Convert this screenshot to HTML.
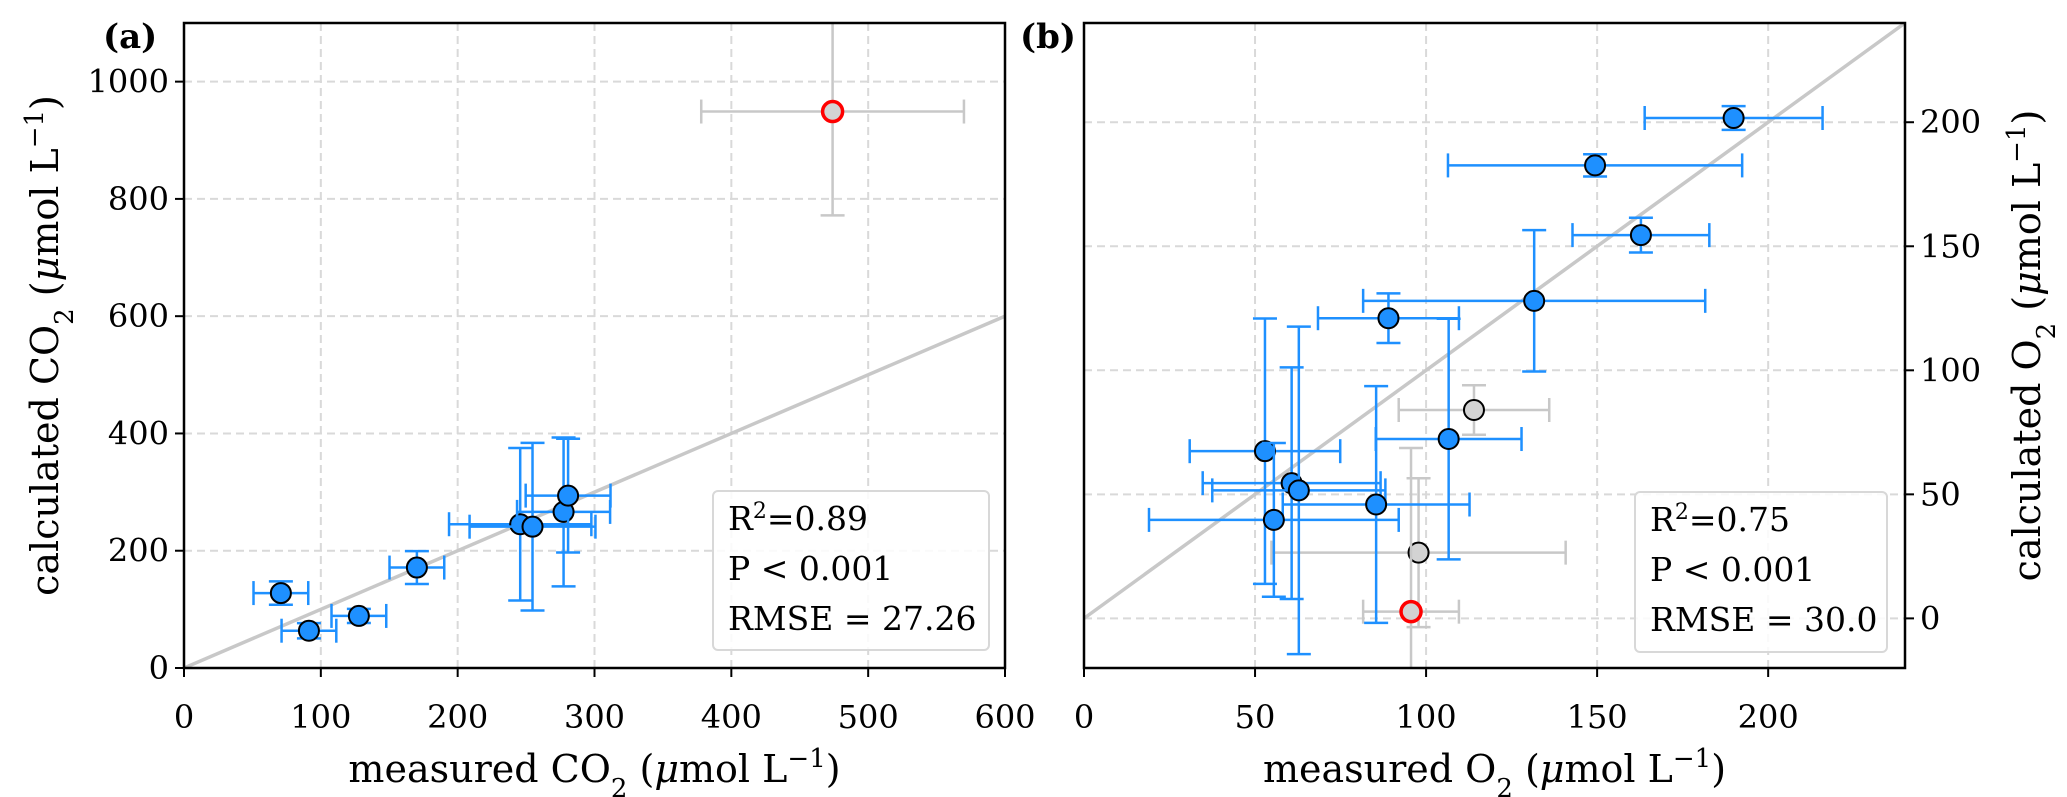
<!DOCTYPE html>
<html><head><meta charset="utf-8"><style>
html,body{margin:0;padding:0;background:#fff;}
svg{display:block;font-family:"DejaVu Serif","Liberation Serif",serif;}
</style></head><body>
<svg id="fig" width="2067" height="797" viewBox="0 0 2067 797" xmlns="http://www.w3.org/2000/svg"></svg>
<script>
// Panel (a) data: CO2
const aX = [70.8, 91.3, 127.8, 170.2, 245.7, 254.7, 277.4, 280.7];
const aY = [127.8, 63.6, 88.8, 171.3, 245.2, 241, 266.2, 294];
const aXerr = [20, 20, 20, 20, 52, 46, 34, 31];
const aYerr = [20, 13, 12, 28, 130, 143, 127, 97];
const aOutX = [474];
const aOutY = [949];
const aOutXerr = [96];
const aOutYerr = [177];
const aXTicks = [0, 100, 200, 300, 400, 500, 600];
const aYTicks = [0, 200, 400, 600, 800, 1000];
// Panel (b) data: O2
const bX = [189.9, 149.4, 162.8, 131.6, 89, 106.6, 52.9, 60.7, 62.8, 85.4, 55.5];
const bY = [201.7, 182.6, 154.5, 128, 121, 72.3, 67.4, 54.5, 51.6, 45.9, 39.7];
const bXerr = [26, 43, 20, 50, 20.6, 21.3, 22, 26, 25.3, 27.3, 36.5];
const bYerr = [4.8, 4.5, 7, 28.5, 10, 48.5, 53.5, 46.7, 66, 47.7, 31];
const bGreyX = [114, 97.8];
const bGreyY = [84, 26.5];
const bGreyXerr = [22, 43];
const bGreyYerr = [10, 30];
const bOutX = [95.6];
const bOutY = [2.7];
const bOutXerr = [14];
const bOutYerr = [66];
const bXTicks = [0, 50, 100, 150, 200];
const bYTicks = [0, 50, 100, 150, 200];

const NS = "http://www.w3.org/2000/svg";
const svg = document.getElementById('fig');
function mk(tag, attrs, parent) {
  const e = document.createElementNS(NS, tag);
  for (const k in attrs) e.setAttribute(k, attrs[k]);
  (parent || svg).appendChild(e);
  return e;
}
function panel(cfg) {
  const g = mk('g', {});
  
  
  const sx = v => cfg.L + (v - cfg.x0) / (cfg.x1 - cfg.x0) * (cfg.R - cfg.L);
  const sy = v => cfg.B - (v - cfg.y0) / (cfg.y1 - cfg.y0) * (cfg.B - cfg.T);
  const clipId = 'clip-' + cfg.name;
  const cp = mk('clipPath', {id: clipId}, g);
  mk('rect', {x: cfg.L, y: cfg.T, width: cfg.R - cfg.L, height: cfg.B - cfg.T}, cp);
  const inner = mk('g', {'clip-path': 'url(#' + clipId + ')'}, g);
  // grid
  cfg.xt.forEach(t => {
    const l = mk('line', {x1: sx(t), x2: sx(t), y1: cfg.T, y2: cfg.B, stroke: '#d9d9d9', 'stroke-width': 2, 'stroke-dasharray': '8,5'}, inner);
    
    
  });
  cfg.yt.forEach(t => {
    const l = mk('line', {x1: cfg.L, x2: cfg.R, y1: sy(t), y2: sy(t), stroke: '#d9d9d9', 'stroke-width': 2, 'stroke-dasharray': '8,5'}, inner);
    
    
  });
  // 1:1 line
  const m = Math.max(cfg.x1, cfg.y1);
  const one = mk('line', {x1: sx(0), y1: sy(0), x2: sx(m), y2: sy(m), stroke: '#c8c8c8', 'stroke-width': 3.5}, inner);
  
  
  function errpt(xs, ys, xe, ye, barCol, fill, edge, ew, nm) {
    xs.forEach((x, i) => {
      const pg = mk('g', {}, inner);
      
      
      const cx = sx(x), cy = sy(ys[i]);
      const x0 = sx(x - xe[i]), x1 = sx(x + xe[i]);
      const y0 = sy(ys[i] - ye[i]), y1 = sy(ys[i] + ye[i]);
      mk('line', {x1: x0, x2: x1, y1: cy, y2: cy, stroke: barCol, 'stroke-width': 2.5}, pg);
      mk('line', {x1: cx, x2: cx, y1: y0, y2: y1, stroke: barCol, 'stroke-width': 2.5}, pg);
      [x0, x1].forEach(xx => mk('line', {x1: xx, x2: xx, y1: cy - 12, y2: cy + 12, stroke: barCol, 'stroke-width': 2.5}, pg));
      [y0, y1].forEach(yy => mk('line', {x1: cx - 12, x2: cx + 12, y1: yy, y2: yy, stroke: barCol, 'stroke-width': 2.5}, pg));
      mk('circle', {cx: cx, cy: cy, r: 10, fill: fill, stroke: edge, 'stroke-width': ew}, pg);
    });
  }
  cfg.series.forEach(s => errpt(s[0], s[1], s[2], s[3], s[4], s[5], s[6], s[7], s[8]));
  // frame
  const fr = mk('rect', {x: cfg.L, y: cfg.T, width: cfg.R - cfg.L, height: cfg.B - cfg.T, fill: 'none', stroke: '#000', 'stroke-width': 2.5}, g);
  
  
  // x ticks
  cfg.xt.forEach(t => {
    mk('line', {x1: sx(t), x2: sx(t), y1: cfg.B, y2: cfg.B + 9, stroke: '#000', 'stroke-width': 2}, g);
    const tx = mk('text', {x: sx(t), y: 728, 'font-size': 32, 'text-anchor': 'middle', fill: '#000'}, g);
    tx.textContent = t;
    
    
  });
  // y ticks
  cfg.yt.forEach(t => {
    const right = cfg.yRight;
    const xe = right ? cfg.R : cfg.L;
    mk('line', {x1: xe, x2: right ? xe + 9 : xe - 9, y1: sy(t), y2: sy(t), stroke: '#000', 'stroke-width': 2}, g);
    const tx = mk('text', {x: right ? xe + 15 : xe - 15, y: sy(t) + 11, 'font-size': 32, 'text-anchor': right ? 'start' : 'end', fill: '#000'}, g);
    tx.textContent = t;
    
    
  });
  // stats box
  const lb = mk('g', {}, g);
  
  
  mk('rect', {x: cfg.box[0], y: cfg.box[1], width: cfg.box[2], height: cfg.box[3], rx: 5, fill: 'rgba(255,255,255,0.85)', stroke: '#d8d8d8', 'stroke-width': 2}, lb);
  cfg.stats.forEach((s, i) => {
    const t = mk('text', {x: cfg.box[0] + 15, y: cfg.box[1] + 39 + i * 50, 'font-size': 33, fill: '#000'}, lb);
    t.innerHTML = s;
  });
  // panel label
  const pl = mk('text', {x: cfg.lab[0], y: cfg.lab[1], 'font-size': 34, 'font-weight': 'bold', fill: '#000'}, g);
  pl.textContent = cfg.labText;
  
  
  // axis labels
  const xl = mk('text', {x: (cfg.L + cfg.R) / 2, y: 782, 'font-size': 38, 'text-anchor': 'middle', fill: '#000'}, g);
  xl.innerHTML = cfg.xlabel;
  
  
  const yc = (cfg.T + cfg.B) / 2;
  const yl = mk('text', {x: cfg.ylx, y: yc, 'font-size': 38, 'text-anchor': 'middle', fill: '#000', transform: 'rotate(-90 ' + cfg.ylx + ' ' + yc + ')'}, g);
  yl.innerHTML = cfg.ylabel;
  
  
}
const sub = s => '<tspan baseline-shift="sub" font-size="26">' + s + '</tspan>';
const unit = ' (<tspan font-style="italic">μ</tspan>mol L<tspan baseline-shift="super" font-size="26">−1</tspan>)';
panel({
  name: 'panel-a-co2', L: 184, R: 1005, T: 23, B: 668, x0: 0, x1: 600, y0: 0, y1: 1100,
  xt: aXTicks, yt: aYTicks, yRight: false,
  series: [
    [aX, aY, aXerr, aYerr, '#1e90ff', '#1e90ff', '#000', 2, 'co2-point'],
    [aOutX, aOutY, aOutXerr, aOutYerr, '#c8c8c8', '#d3d3d3', '#ff0000', 3.5, 'co2-outlier-point']
  ],
  box: [713, 491, 276, 159],
  stats: ['R<tspan baseline-shift="super" font-size="22">2</tspan>=0.89', 'P &lt; 0.001', 'RMSE = 27.26'],
  lab: [103, 48], labText: '(a)',
  xlabel: 'measured CO' + sub('2') + unit,
  ylabel: 'calculated CO' + sub('2') + unit,
  ylx: 58
});
panel({
  name: 'panel-b-o2', L: 1084, R: 1905, T: 23, B: 668, x0: 0, x1: 240, y0: -20, y1: 240,
  xt: bXTicks, yt: bYTicks, yRight: true,
  series: [
    [bGreyX, bGreyY, bGreyXerr, bGreyYerr, '#c8c8c8', '#d3d3d3', '#000', 2, 'o2-excluded-point'],
    [bOutX, bOutY, bOutXerr, bOutYerr, '#c8c8c8', '#d3d3d3', '#ff0000', 3.5, 'o2-outlier-point'],
    [bX, bY, bXerr, bYerr, '#1e90ff', '#1e90ff', '#000', 2, 'o2-point']
  ],
  box: [1635, 492, 252, 160],
  stats: ['R<tspan baseline-shift="super" font-size="22">2</tspan>=0.75', 'P &lt; 0.001', 'RMSE = 30.0'],
  lab: [1020, 48], labText: '(b)',
  xlabel: 'measured O' + sub('2') + unit,
  ylabel: 'calculated O' + sub('2') + unit,
  ylx: 2040
});
</script>
</body></html>
